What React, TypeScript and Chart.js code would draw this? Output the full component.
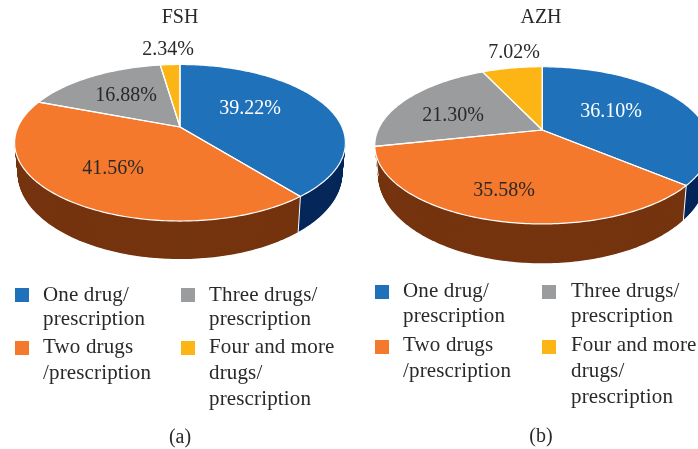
import React, { useEffect, useRef } from "react";
import { Chart, registerables } from "chart.js";

Chart.register(...registerables);

const categories = ["One drug/prescription", "Two drugs/prescription", "Three drugs/prescription", "Four and more drugs/prescription"];
const fshValues = [39.22, 41.56, 16.88, 2.34];
const azhValues = [36.1, 35.58, 21.3, 7.02];
const fshLabels = ["39.22%", "41.56%", "16.88%", "2.34%"];
const azhLabels = ["36.10%", "35.58%", "21.30%", "7.02%"];
const legendLines = [
  ["One drug/", "prescription"],
  ["Two drugs", "/prescription"],
  ["Three drugs/", "prescription"],
  ["Four and more", "drugs/", "prescription"],
];

const topColors = ["#1f72ba", "#f5792c", "#9b9c9e", "#fdb515"];
const sideColors = ["#05275a", "#75340f", "#5d5e5f", "#98690a"];
const labelColors = ["#ffffff", "#2b2829", "#2b2829", "#2b2829"];
const TEXT = "#2b2829";
const FONT = '20px "Liberation Serif"';
const LEGEND_FONT = '21px "Liberation Serif"';

const fshLayout = {
  offset: 0,
  title: "FSH", titleX: 180, titleY: 23,
  caption: "(a)", captionX: 180, captionY: 443,
  cx: 180, y0: 127, a: 162, b: 75.1, p: 0.2013,
  y0b: 156, ab: 159, bb: 82.3,
  labels: [[250, 114], [113, 174], [126, 101], [168, 55]],
  swatchX: [15, 181], textX: [43, 209],
  swatchY: [[288, 341], [288, 341]],
  baselines: [[[301, 325], [353, 379]], [[301, 325], [353, 379, 405]]],
};
const azhLayout = {
  offset: 349,
  title: "AZH", titleX: 541, titleY: 23,
  caption: "(b)", captionX: 541, captionY: 442,
  cx: 542.3, y0: 130, a: 164.3, b: 75.6, p: 0.195,
  y0b: 157.7, ab: 161, bb: 85,
  labels: [[611, 117], [504, 196], [453, 121], [514, 58]],
  swatchX: [375, 542], textX: [403, 571],
  swatchY: [[285, 340], [285, 340]],
  baselines: [[[297, 322], [351, 377]], [[297, 322], [351, 377, 403]]],
};

type Layout = typeof fshLayout;

function project(l: Layout, angle: number, t: number): [number, number] {
  const u = Math.cos(angle);
  const v = Math.sin(angle);
  const w = 1 - l.p * v;
  const a = l.a + (l.ab - l.a) * t;
  const b = l.b + (l.bb - l.b) * t;
  const y0 = l.y0 + (l.y0b - l.y0) * t;
  return [l.cx + (a * u) / w - l.offset, y0 + (b * v) / w];
}

function slicePath(ctx: CanvasRenderingContext2D, l: Layout, start: number, end: number, t: number) {
  const centreY = l.y0 + (l.y0b - l.y0) * t;
  ctx.beginPath();
  ctx.moveTo(l.cx - l.offset, centreY);
  const n = Math.max(2, Math.ceil((end - start) / (Math.PI / 180)));
  for (let i = 0; i <= n; i++) {
    const [x, y] = project(l, start + ((end - start) * i) / n, t);
    ctx.lineTo(x, y);
  }
  ctx.closePath();
}

function piePlugin(l: Layout, labels: string[]) {
  return {
    id: "perspectivePie",
    beforeDatasetsDraw(chart: any) {
      const ctx: CanvasRenderingContext2D = chart.ctx;
      const arcs = chart.getDatasetMeta(0).data;
      const layers = 60;
      ctx.save();
      for (let k = layers; k >= 1; k--) {
        arcs.forEach((arc: any, i: number) => {
          slicePath(ctx, l, arc.startAngle, arc.endAngle, k / layers);
          ctx.fillStyle = sideColors[i];
          ctx.fill();
        });
      }
      arcs.forEach((arc: any) => {
        const v = Math.sin(arc.startAngle);
        if (v > 0.05) {
          const [x1, y1] = project(l, arc.startAngle, 0);
          const [x2, y2] = project(l, arc.startAngle, 1);
          ctx.beginPath();
          ctx.moveTo(x1, y1);
          ctx.lineTo(x2, y2);
          ctx.strokeStyle = "#ffffff";
          ctx.lineWidth = 1;
          ctx.stroke();
        }
      });
      arcs.forEach((arc: any, i: number) => {
        slicePath(ctx, l, arc.startAngle, arc.endAngle, 0);
        ctx.fillStyle = topColors[i];
        ctx.fill();
      });
      arcs.forEach((arc: any) => {
        slicePath(ctx, l, arc.startAngle, arc.endAngle, 0);
        ctx.strokeStyle = "#ffffff";
        ctx.lineWidth = 1.2;
        ctx.lineJoin = "round";
        ctx.stroke();
      });
      ctx.restore();
      return false;
    },
    afterDraw(chart: any) {
      const ctx: CanvasRenderingContext2D = chart.ctx;
      ctx.save();
      ctx.font = FONT;
      ctx.textBaseline = "alphabetic";
      ctx.textAlign = "center";
      ctx.fillStyle = TEXT;
      ctx.fillText(l.title, l.titleX - l.offset, l.titleY);
      ctx.fillText(l.caption, l.captionX - l.offset, l.captionY);
      labels.forEach((text, i) => {
        ctx.fillStyle = labelColors[i];
        ctx.fillText(text, l.labels[i][0] - l.offset, l.labels[i][1]);
      });
      // legend: two columns, two entries each
      ctx.font = LEGEND_FONT;
      (ctx as any).letterSpacing = "0.15px";
      const entryOrder = [[0, 1], [2, 3]];
      entryOrder.forEach((col, c) => {
        col.forEach((entry, r) => {
          ctx.fillStyle = topColors[entry];
          ctx.fillRect(l.swatchX[c] - l.offset, l.swatchY[c][r], 14, 14);
          ctx.fillStyle = TEXT;
          ctx.textAlign = "left";
          legendLines[entry].forEach((line, j) => {
            ctx.fillText(line, l.textX[c] - l.offset, l.baselines[c][r][j]);
          });
        });
      });
      ctx.restore();
    },
  };
}

function Pie({ values, labels, layout }: { values: number[]; labels: string[]; layout: Layout }) {
  const ref = useRef<HTMLCanvasElement>(null);
  useEffect(() => {
    const chart = new Chart(ref.current!, {
      type: "pie",
      data: {
        labels: categories,
        datasets: [{ data: values, backgroundColor: topColors, borderColor: "#ffffff", borderWidth: 1 }],
      },
      options: {
        responsive: false,
        animation: false,
        rotation: 0,
        plugins: { legend: { display: false }, tooltip: { enabled: false }, title: { display: false } },
      },
      plugins: [piePlugin(layout, labels)],
    } as any);
    return () => chart.destroy();
  }, []);
  return (
    <canvas
      ref={ref}
      width={349}
      height={449}
      style={{ position: "absolute", left: layout.offset, top: 0, width: 349, height: 449 }}
    />
  );
}

export default function App() {
  return (
    <div style={{ position: "fixed", left: 0, top: 0, width: 698, height: 449, background: "#fff", overflow: "hidden" }}>
      <Pie values={fshValues} labels={fshLabels} layout={fshLayout} />
      <Pie values={azhValues} labels={azhLabels} layout={azhLayout} />
    </div>
  );
}
